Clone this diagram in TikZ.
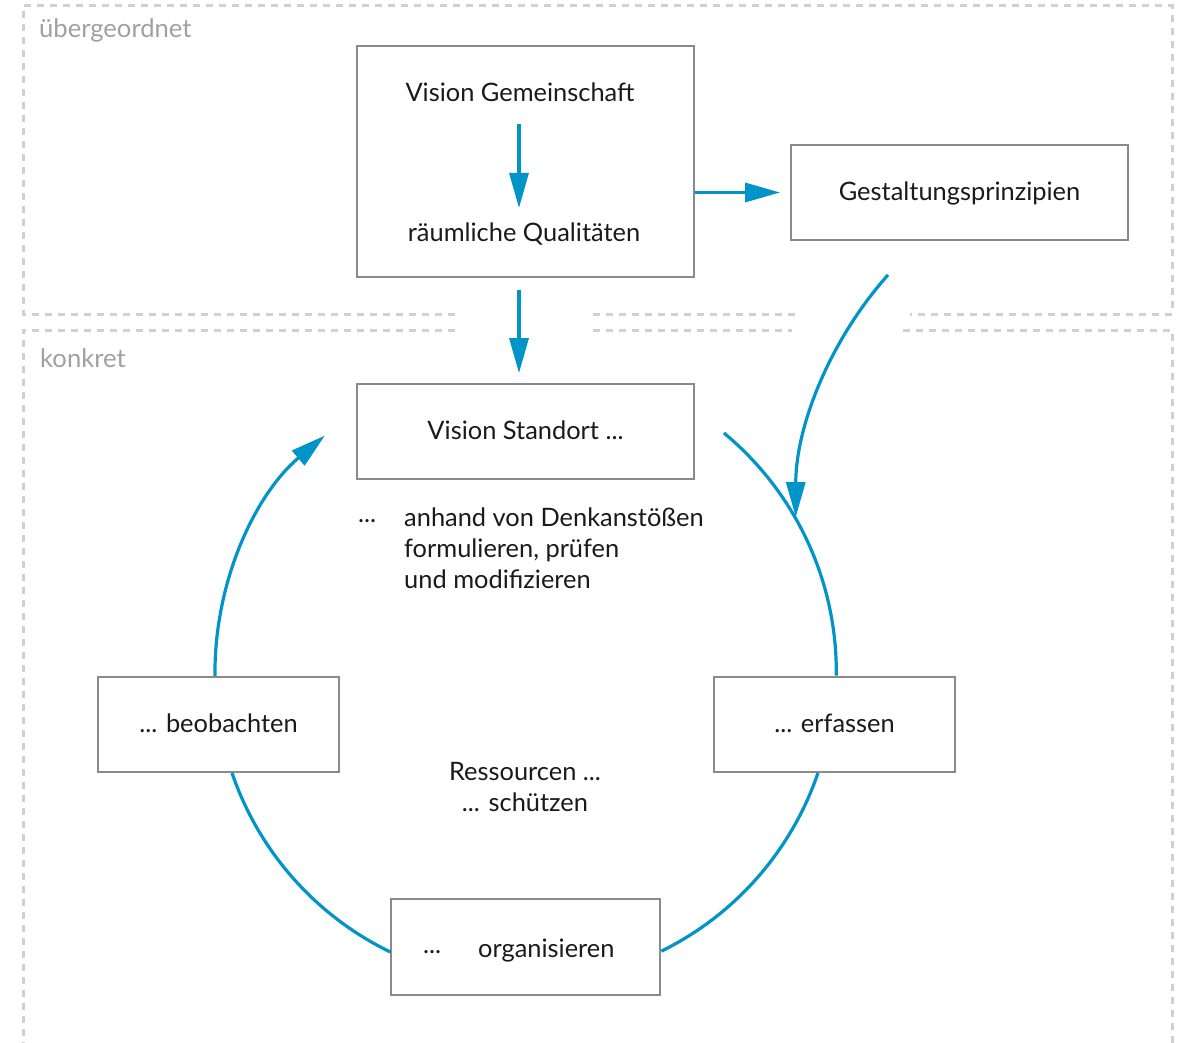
\documentclass[tikz,border=0pt]{standalone}
\usepackage{fontspec}
\setmainfont{Lato}
\usetikzlibrary{arrows.meta}
\definecolor{flowblue}{RGB}{0,148,200}
\definecolor{boxgray}{RGB}{138,138,138}
\definecolor{dashgray}{RGB}{208,208,208}
\definecolor{labelgray}{RGB}{160,160,160}
\definecolor{txt}{RGB}{26,26,26}
\tikzset{
  x=1pt, y=-1pt,
  box/.style={draw=boxgray, line width=1.8pt, fill=white, rectangle, inner sep=0pt, text=txt, font=\fontsize{25.4}{31}\selectfont, text depth=2pt},
  lbl/.style={text=txt, font=\fontsize{25.4}{31}\selectfont, inner sep=0pt},
  region/.style={draw=dashgray, line width=3pt, dash pattern=on 7pt off 6pt},
  regionlbl/.style={text=labelgray, font=\fontsize{25.6}{28}\selectfont, inner sep=0pt, anchor=west},
  flow/.style={draw=flowblue, line width=3.2pt},
  flowarrow/.style={flow, -{Triangle[length=35pt, width=19pt]}},
}
\begin{document}
\begin{tikzpicture}
\useasboundingbox (0,0) rectangle (1184,1043);
% dashed regions
\draw[region] (455,314) -- (23,314) -- (23,6) -- (1172,6) -- (1172,314) -- (910,314);
\draw[region] (593,314) -- (797,314);
\draw[region] (455,330) -- (23,330) -- (23,1043);
\draw[region] (1172,1043) -- (1172,330) -- (897,330);
\draw[region] (593,330) -- (792,330);
\node[regionlbl] (lup) at (39,30) {übergeordnet};
\node[regionlbl] (lcon) at (40,358) {konkret};

% boxes
\node[box, minimum width=337pt, minimum height=231pt] (box1) at (525.5,161.5) {};
\node[lbl] (vg) at (520,92) {Vision Gemeinschaft};
\node[lbl] (rq) at (524,234) {räumliche Qualitäten};
\node[box, minimum width=337pt, minimum height=95pt] (gp) at (959.5,192.5) {Gestaltungsprinzipien};
\node[box, minimum width=337pt, minimum height=95pt] (vs) at (525.5,431.5) {Vision Standort ...};
\node[box, minimum width=241pt, minimum height=95pt] (beob) at (218.5,724.5) {... beobachten};
\node[box, minimum width=241pt, minimum height=95pt] (erf) at (834.5,724.5) {... erfassen};
\node[box, minimum width=269pt, minimum height=96pt] (org) at (525.5,947) {};
\node[lbl] (orgdots) at (432,952) {...};
\node[lbl, anchor=west] (orgtxt) at (478,951) {organisieren};

% free texts
\node[lbl] (dots) at (367,521) {...};
\node[lbl, anchor=north west, align=left] (denk) at (404,508) {anhand von Denkanstößen\\formulieren, prüfen\\und modifizieren};
\node[lbl, align=center] (res) at (525,787) {Ressourcen ...\\... schützen};

% arrows
\draw[flowarrow] ([xshift=-1pt,yshift=-32pt]vg.center) -- ([xshift=-1pt,yshift=26pt]vg.center |- rq.center);
\draw[flowarrow] (box1.east |- gp.west) -- ([xshift=-10pt]gp.west);
\draw[flowarrow] ([xshift=-6.5pt,yshift=-12pt]box1.south) -- ([xshift=-6.5pt,yshift=10pt]vs.north);
\draw[flowarrow] ([xshift=-71.5pt,yshift=-34pt]gp.south) arc[start angle=221.7, end angle=180, radius=364];

% cycle
\draw[flow] ([xshift=29pt,yshift=-1.5pt]vs.east) arc[start angle=-50.4, end angle=0.7, radius=310];
\draw[flow] ([xshift=-16.5pt]erf.south) arc[start angle=18.8, end angle=63.8, radius=310];
\draw[flow] ([xshift=13.5pt]beob.south) arc[start angle=161.2, end angle=115.8, radius=310];
\draw[flowarrow] ([xshift=-3.5pt]beob.north) arc[start angle=179.3, end angle=229.8, radius=310];
\end{tikzpicture}
\end{document}
